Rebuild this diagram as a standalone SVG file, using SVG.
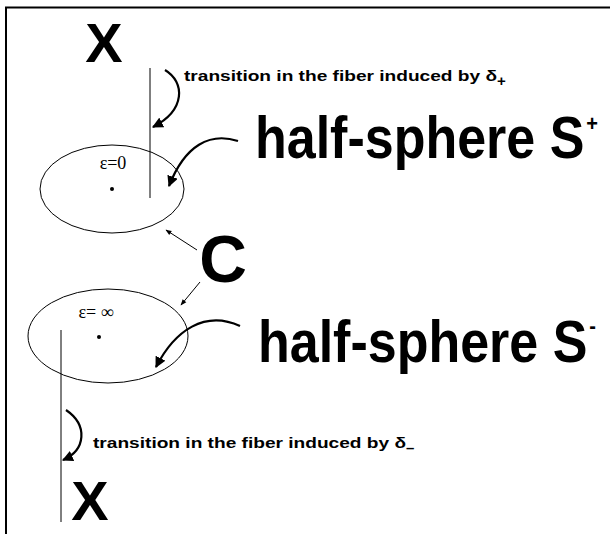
<svg xmlns="http://www.w3.org/2000/svg" width="610" height="534" viewBox="0 0 610 534">
<style>
.big{font-family:"Liberation Sans",Arial,sans-serif;font-weight:bold;fill:#000}
.lbl{font-family:"Liberation Sans",Arial,sans-serif;font-weight:bold;font-size:15px;fill:#000}
.eps{font-family:"Liberation Serif","Times New Roman",serif;font-size:18px;fill:#000}
.ln{fill:none;stroke:#000;stroke-width:2}
.crv{fill:none;stroke:#000;stroke-width:2.2}
.thin{fill:none;stroke:#000;stroke-width:1}
</style>
<defs>
<marker id="ah" viewBox="0 0 10 10" refX="9" refY="5" markerWidth="5" markerHeight="5" orient="auto" markerUnits="strokeWidth">
<path d="M0,0 L10,5 L0,10 Z" fill="#000"/>
</marker>
<marker id="ahs" viewBox="0 0 10 10" refX="9" refY="5" markerWidth="7" markerHeight="6" orient="auto" markerUnits="strokeWidth">
<path d="M0,1 L10,5 L0,9 Z" fill="#000"/>
</marker>
</defs>
<rect width="610" height="534" fill="#fff"/>
<g id="frame">
<path class="ln" d="M6,534 V7.5 H610"/>
</g>
<g id="fiber-top">
<text class="big" x="104" y="62" font-size="56" text-anchor="middle">X</text>
<line class="thin" x1="150" y1="68" x2="150" y2="198"/>
</g>
<g id="label-top">
<text class="lbl" x="184" y="81" textLength="313" lengthAdjust="spacingAndGlyphs">transition in the fiber induced by δ</text>
<text class="lbl" x="497" y="86" font-size="9">+</text>
</g>
<g id="ellipse-top">
<ellipse class="thin" cx="112" cy="189" rx="72" ry="44"/>
<text class="eps" x="113" y="169" text-anchor="middle">ε=0</text>
<circle cx="112" cy="189" r="2" fill="#000"/>
</g>
<g id="halfsphere-plus">
<text class="big" transform="translate(255,158) scale(1,1.13)" x="0" y="0" font-size="52">half-sphere S<tspan font-size="20" dx="2" dy="-24">+</tspan></text>
</g>
<g id="C">
<text class="big" x="223" y="282" font-size="66" text-anchor="middle">C</text>
</g>
<g id="ellipse-bottom">
<ellipse class="thin" cx="108" cy="336" rx="80" ry="47"/>
<text class="eps" x="96" y="318" text-anchor="middle">ε= ∞</text>
<circle cx="99" cy="337" r="2" fill="#000"/>
</g>
<g id="halfsphere-minus">
<text class="big" transform="translate(258,362) scale(1,1.13)" x="0" y="0" font-size="52">half-sphere S<tspan font-size="20" dx="2" dy="-26">-</tspan></text>
</g>
<g id="fiber-bottom">
<line class="thin" x1="61" y1="330" x2="61" y2="522"/>
<text class="big" x="90" y="520" font-size="56" text-anchor="middle">X</text>
</g>
<g id="label-bottom">
<text class="lbl" x="93" y="448" textLength="313" lengthAdjust="spacingAndGlyphs">transition in the fiber induced by δ</text>
<text class="lbl" x="406" y="453" font-size="9">–</text>
</g>
<g id="connectors">
<path class="crv" d="M165,70 C185,82 186,110 153,127" marker-end="url(#ah)"/>
<path class="crv" d="M238,141 C210,132 185,145 169,186" marker-end="url(#ah)"/>
<path class="thin" d="M197,250 L166,230" marker-end="url(#ahs)"/>
<path class="thin" d="M200,282 L181,305" marker-end="url(#ahs)"/>
<path class="crv" d="M240,326 C205,310 175,330 156,367" marker-end="url(#ah)"/>
<path class="crv" d="M66,410 C88,425 86,450 63,460" marker-end="url(#ah)"/>
</g>
</svg>
